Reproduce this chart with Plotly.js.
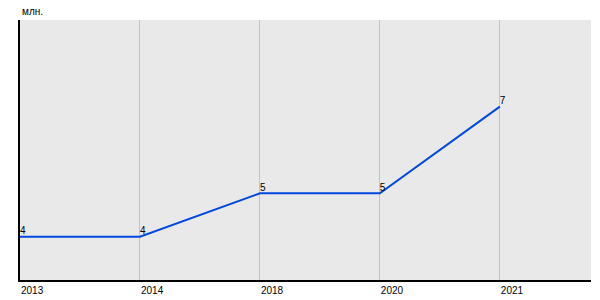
<!DOCTYPE html>
<html>
<head>
<meta charset="utf-8">
<script src="https://cdn.plot.ly/plotly-3.0.1.min.js"></script>
<style>body{margin:0;padding:0;background:#fff}#chart{width:600px;height:300px}</style>
</head>
<body>
<div id="chart"></div>
<script>
const years = ["2013", "2014", "2018", "2020", "2021"];
const values = [4, 4, 5, 5, 7];
const labels = ["4", "4", "5", "5", "7"];
const unitLabel = "млн.";

const trace = {
  x: years,
  y: values,
  type: "scatter",
  mode: "lines+text",
  text: labels,
  textposition: "top right",
  textfont: {family: "Arial, Liberation Sans, sans-serif", size: 10, color: "#000"},
  line: {color: "#0048e0", width: 2},
  cliponaxis: false,
  hoverinfo: "skip"
};

const layout = {
  width: 600, height: 300,
  margin: {l: 20, r: 9, t: 20, b: 20},
  paper_bgcolor: "#ffffff",
  plot_bgcolor: "#e9e9e9",
  showlegend: false,
  font: {family: "Arial, Liberation Sans, sans-serif", size: 10, color: "#000"},
  xaxis: {
    type: "category",
    range: [0, 4.76],
    showgrid: true, gridcolor: "#c4c4c4", gridwidth: 1,
    showline: true, linecolor: "#000", linewidth: 2,
    ticks: "", zeroline: false,
    ticklabelposition: "outside right",
    tickfont: {size: 10, color: "#000"},
    fixedrange: true
  },
  yaxis: {
    range: [3, 9],
    showgrid: false, zeroline: false,
    showticklabels: false, ticks: "",
    showline: true, linecolor: "#000", linewidth: 2,
    fixedrange: true
  },
  annotations: [{
    text: unitLabel, xref: "paper", yref: "paper",
    x: 0, y: 1, xanchor: "left", yanchor: "bottom", yshift: 1,
    showarrow: false, font: {size: 10, color: "#000"}
  }]
};

Plotly.newPlot("chart", [trace], layout, {displayModeBar: false, staticPlot: true});
</script>
</body>
</html>
